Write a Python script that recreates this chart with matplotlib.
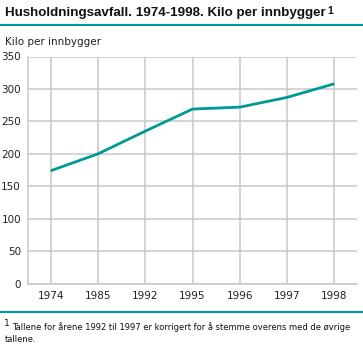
import matplotlib.pyplot as plt
from matplotlib.lines import Line2D

years = ["1974", "1985", "1992", "1995", "1996", "1997", "1998"]
kilo = [174, 200, 235, 269, 272, 287, 308]
yticks = [0, 50, 100, 150, 200, 250, 300, 350]

teal = "#009999"
grid = "#c8c8c8"

plt.rcParams['font.family'] = ['DejaVu Sans']

W, H = 363, 348
fig = plt.figure(figsize=(W / 100, H / 100), dpi=100)

# plot area in pixels: left 28, right 357, top 56.5, bottom 283.7
ax = fig.add_axes([28 / W, 1 - 283.7 / H, (357 - 28) / W, (283.7 - 56.5) / H])
x = list(range(len(years)))
ax.plot(x, kilo, color=teal, lw=2.0, solid_capstyle="butt", zorder=3)

ax.set_xlim(-0.48, len(years) - 1 + 0.48)
ax.set_ylim(0, 350)
ax.set_xticks(x)
ax.set_xticklabels(years)
ax.set_yticks(yticks)
ax.grid(True, color=grid, lw=1.1)
ax.set_axisbelow(True)
for s in ["top", "right"]:
    ax.spines[s].set_visible(False)
for s in ["left", "bottom"]:
    ax.spines[s].set_color(grid)
    ax.spines[s].set_linewidth(1.1)
ax.tick_params(colors=grid, length=0, labelsize=7.5, labelcolor="#222222", pad=5)

title = fig.text(5 / W, 1 - 13 / H, "Husholdningsavfall. 1974-1998. Kilo per innbygger",
                 fontsize=10, fontweight="bold", va="center", ha="left", color="#111111",
                 family="Liberation Sans")
fig.canvas.draw()
tw = title.get_window_extent().width
title.set_fontsize(10 * 322 / tw)
ax.annotate("1", xy=(1, 1), xycoords=title, xytext=(1.5, 1), textcoords="offset points",
            fontsize=7.5, fontweight="bold", va="top", ha="left", color="#111111",
            family="Liberation Sans", annotation_clip=False)
fig.add_artist(Line2D([0, 1], [1 - 25 / H, 1 - 25 / H], color=teal, lw=1.5))
fig.text(5 / W, 1 - 42 / H, "Kilo per innbygger", fontsize=7.5, va="center", ha="left", color="#222222")

fig.add_artist(Line2D([0, 1], [1 - 312 / H, 1 - 312 / H], color=teal, lw=1.5))
fig.text(4 / W, 1 - 323.5 / H, "1", fontsize=6.5, va="center", ha="left", color="#111111")
fig.text(12 / W, 1 - 327 / H,
         "Tallene for årene 1992 til 1997 er korrigert for å stemme overens med de øvrige",
         fontsize=6, va="center", ha="left", color="#111111")
fig.text(5 / W, 1 - 340 / H, "tallene.", fontsize=6, va="center", ha="left", color="#111111")

fig.savefig("out.png", dpi=100)
